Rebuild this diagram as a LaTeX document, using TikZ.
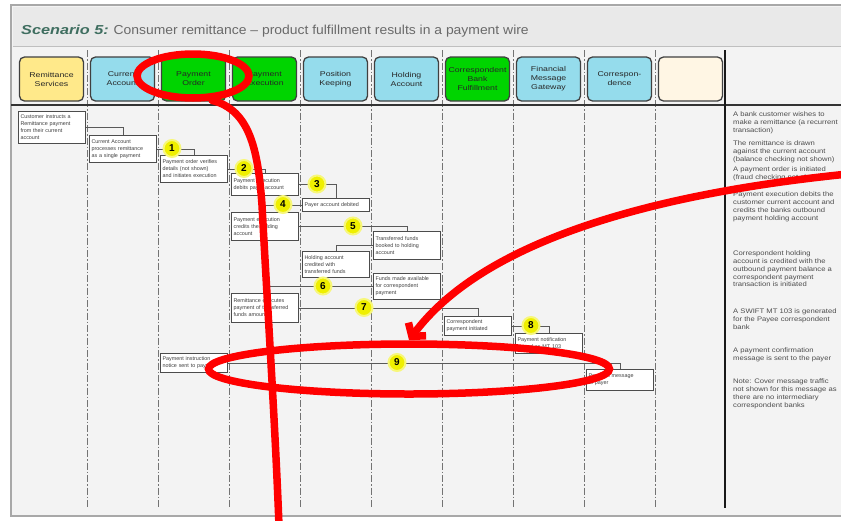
\documentclass[tikz,border=0pt]{standalone}
\usepackage{fontspec}
\setmainfont{Liberation Sans}
\newfontfamily\hdrfont[FakeStretch=1.25]{Liberation Sans}
\newfontfamily\notefont[FakeStretch=1.16]{Liberation Sans}
\newfontfamily\leadfont[FakeStretch=1.25]{Liberation Sans}
\newfontfamily\headfont[FakeStretch=1.07]{Liberation Sans}
\usetikzlibrary{shapes.geometric,arrows.meta}

\definecolor{pagebg}{HTML}{F3F3F3}
\definecolor{titlebg}{HTML}{E9E9E9}
\definecolor{framegray}{HTML}{A8A8A8}
\definecolor{svcyellow}{HTML}{FFE98A}
\definecolor{svcblue}{HTML}{95DCEC}
\definecolor{svcgreen}{HTML}{00D400}
\definecolor{svccream}{HTML}{FFF6E4}
\definecolor{titlegreen}{HTML}{3F6E60}
\definecolor{titlegray}{HTML}{6A6A6A}
\definecolor{marker}{HTML}{EFEF00}
\definecolor{markerhalo}{HTML}{F7F77A}
\definecolor{penred}{HTML}{FF0000}

\tikzset{
  svc/.style={rounded corners=5pt, draw=black!75, line width=1.3pt,
    minimum width=64pt, minimum height=44pt, align=center, inner sep=1pt,
    font=\hdrfont\fontsize{7}{9}\selectfont, text=black!85},
  msg/.style={draw=black!70, line width=1.1pt, fill=white, anchor=north west,
    text width=63pt, align=left, inner sep=2pt,
    font=\fontsize{5.4}{7}\selectfont, text=black!75},
  link/.style={draw=black!65, line width=1pt},
  lifeline/.style={draw=black!55, line width=0.7pt,
    dash pattern=on 7pt off 2pt on 1.5pt off 2pt},
  stepmark/.style={circle, fill=marker, draw=markerhalo, line width=2pt,
    minimum size=17pt, inner sep=0pt, font=\bfseries\fontsize{10}{10}\selectfont},
  note/.style={anchor=north west, align=left, inner sep=0pt,
    font=\notefont\fontsize{6.6}{7.7}\selectfont, text=black!70},
  redpen/.style={draw=penred, line width=7.5pt, line cap=round}
}

\begin{document}
\begin{tikzpicture}[x=1pt,y=-1pt]
\useasboundingbox (0,0) rectangle (841,520);
\fill[white] (0,0) rectangle (841,520);

% frame and title band
\draw[framegray, line width=2.5pt, fill=pagebg] (11,5) rectangle (848,516);
\fill[titlebg] (12.5,6.5) rectangle (848,46);
\draw[black!25, line width=0.6pt] (12.5,46) -- (848,46);
\node[anchor=west, inner sep=0pt, font=\fontsize{13}{15}\selectfont] (title) at (21,31)
  {{\leadfont\color{titlegreen}\bfseries\itshape Scenario 5:} {\headfont\color{titlegray}Consumer remittance – product fulfillment results in a payment wire}};

% lane boundaries
\foreach \k in {0,...,8}{
  \draw[lifeline] ({87+71*\k},50) -- ({87+71*\k},507);
}

% service headers
\node[svc, fill=svcyellow] (h0) at (51.5,79)  {Remittance\\Services};
\node[svc, fill=svcblue]   (h1) at (122.5,79) {Current\\Account};
\node[svc, fill=svcgreen]  (h2) at (193.5,79) {Payment\\Order};
\node[svc, fill=svcgreen]  (h3) at (264.5,79) {Payment\\Execution};
\node[svc, fill=svcblue]   (h4) at (335.5,79) {Position\\Keeping};
\node[svc, fill=svcblue]   (h5) at (406.5,79) {Holding\\Account};
\node[svc, fill=svcgreen]  (h6) at (477.5,79) {Correspondent\\Bank\\Fulfillment};
\node[svc, fill=svcblue]   (h7) at (548.5,79) {Financial\\Message\\Gateway};
\node[svc, fill=svcblue]   (h8) at (619.5,79) {Correspon-\\dence};
\node[svc, fill=svccream]  (h9) at (690.5,79) {};

% rules
\draw[black!80, line width=2.5pt] (11,105) -- (848,105);
\draw[black!90, line width=2.5pt] (725,50) -- (725,508);

% message boxes
\node[msg, minimum height=32pt] (b1)  at (18,111)  {Customer instructs a\\Remittance payment\\from their current\\account};
\node[msg, minimum height=27pt] (b2)  at (89,135)  {Current Account\\processes remittance\\as a single payment};
\node[msg, minimum height=27pt] (b3)  at (160,155) {Payment order verifies\\details (not shown)\\and initiates execution};
\node[msg, minimum height=22pt] (b4)  at (231,173) {Payment execution\\debits payer account};
\node[msg, minimum height=13pt] (b5)  at (302,198) {Payer account debited};
\node[msg, minimum height=28pt] (b6)  at (231,212) {Payment execution\\credits the holding\\account};
\node[msg, minimum height=28pt] (b7)  at (373,231) {Transferred funds\\booked to holding\\account};
\node[msg, minimum height=26pt] (b8)  at (302,251) {Holding account\\credited with\\transferred funds};
\node[msg, minimum height=26pt] (b9)  at (373,273) {Funds made available\\for correspondent\\payment};
\node[msg, minimum height=29pt] (b10) at (231,293) {Remittance executes\\payment of transferred\\funds amount};
\node[msg, minimum height=19pt] (b11) at (444,316) {Correspondent\\payment initiated};
\node[msg, minimum height=20pt] (b12) at (515,333) {Payment notification\\issued as MT 103};
\node[msg, minimum height=19pt] (b13) at (160,353) {Payment instruction\\notice sent to payer};
\node[msg, minimum height=21pt] (b14) at (586,369) {Payment message\\to payer};

% return-message ends
\coordinate (r4) at (266,0);
\coordinate (r6) at (268,0);

% connectors
\draw[link] (b1.east) -| (b2.north);
\draw[link] (b2.east) -| (b3.north);
\draw[link] (b3.east) -| (b4.north);
\draw[link] (b4.east) -| (b5.north);
\draw[link] (b5.west) -- (b5.west -| r4);
\draw[link] (b6.east) -| (b7.north);
\draw[link] (b7.west) -| (b8.north);
\draw[link] (b9.west) -- (b9.west -| r6);
\draw[link] (b10.east) -| (b11.north);
\draw[link] (b11.east) -| (b12.north);
\draw[link] (b13.east) -| (b14.north);

% step markers
\node[stepmark] (c1) at (172,148.5) {1};
\node[stepmark] (c2) at (244,168.5) {2};
\node[stepmark] (c3) at (317,184)   {3};
\node[stepmark] (c4) at (283,204.5) {4};
\node[stepmark] (c5) at (353,226)   {5};
\node[stepmark] (c6) at (323,286)   {6};
\node[stepmark] (c7) at (364,307.5) {7};
\node[stepmark] (c8) at (531,325.5) {8};
\node[stepmark] (c9) at (397,362.5) {9};

% side notes
\node[note] (n1) at (733,112) {A bank customer wishes to\\make a remittance (a recurrent\\transaction)};
\node[note] (n2) at (733,141) {The remittance is drawn\\against the current account\\(balance checking not shown)};
\node[note] (n3) at (733,167) {A payment order is initiated\\(fraud checking not shown)};
\node[note] (n4) at (733,192) {Payment execution debits the\\customer current account and\\credits the banks outbound\\payment holding account};
\node[note] (n5) at (733,251) {Correspondent holding\\account is credited with the\\outbound payment balance a\\correspondent payment\\transaction is initiated};
\node[note] (n6) at (733,309) {A SWIFT MT 103 is generated\\for the Payee correspondent\\bank};
\node[note] (n7) at (733,348) {A payment confirmation\\message is sent to the payer};
\node[note] (n8) at (733,379) {Note: Cover message traffic\\not shown for this message as\\there are no intermediary\\correspondent banks};

% red pen markup
\node[redpen, ellipse, minimum width=112pt, minimum height=44pt, inner sep=0pt] (ringA) at (193,76) {};
\node[redpen, ellipse, minimum width=401pt, minimum height=50pt, inner sep=0pt] (ringB) at (409,369) {};
\coordinate (tail) at (279,526);
\coordinate (callout) at (848,174);
\draw[redpen] (ringA.-52) .. controls (250,110) and (258,150) .. (262,205)
  .. controls (267,300) and (275,420) .. (tail);
\draw[redpen, -{Straight Barb[length=9pt,width=22pt]}] (callout)
  .. controls (640,195) and (480,245) .. (ringB.north);
\end{tikzpicture}
\end{document}
